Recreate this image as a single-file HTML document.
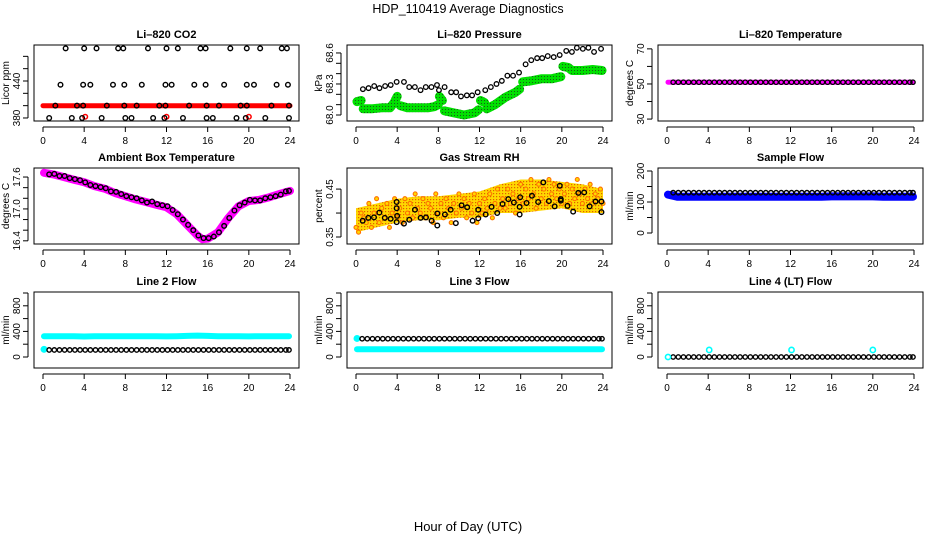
<!DOCTYPE html>
<html><head><meta charset="utf-8"><style>
html,body{margin:0;padding:0;background:#fff}
svg{display:block;font-family:"Liberation Sans",sans-serif}
</style></head><body>
<svg id="chart" width="936" height="540" viewBox="0 0 936 540" xmlns="http://www.w3.org/2000/svg">
<defs>
<pattern id="gdots" width="3" height="3" patternUnits="userSpaceOnUse"><rect width="3" height="3" fill="#00e000"/><rect x="1" y="1" width="1" height="1" fill="#1a5a1a"/></pattern>
<pattern id="odots" width="3" height="3" patternUnits="userSpaceOnUse"><rect width="3" height="3" fill="#ffd800"/><rect x="1" y="1" width="1.2" height="1.2" fill="#e06000"/></pattern>
</defs>
<text x="468" y="13" font-size="12.5" text-anchor="middle">HDP_110419  Average Diagnostics</text>
<text x="468" y="531" font-size="13" text-anchor="middle">Hour of Day (UTC)</text>
</svg>
<script>
// ---- data ----
const xTicks = [0,4,8,12,16,20,24];
const co2BT = [2.2,4.0,5.2,7.3,7.8,10.2,12.0,13.1,15.3,15.8,18.2,19.8,21.1,23.2,23.7, 1.7,3.9,4.6,6.8,7.9,9.6,11.9,12.5,14.7,15.8,17.6,19.8,20.5,22.7,23.8, 1.2,3.3,3.9,6.2,7.9,9.1,11.3,11.9,14.2,15.9,17.1,19.2,19.8,22.2,23.9, 0.6,2.8,3.8,5.7,8.0,8.6,10.7,11.8,13.6,15.9,16.5,18.8,19.7,21.6,23.9];
const co2BV = [493,493,493,493,493,493,493,493,493,493,493,493,493,493,493, 434,434,434,434,434,434,434,434,434,434,434,434,434,434,434, 400,400,400,400,400,400,400,400,400,400,400,400,400,400,400, 380,380,380,380,380,380,380,380,380,380,380,380,380,380,380];
const co2RT = [0,4,8,12,16,20,24];
const co2RV = [400,400,400,400,400,400,400];
const co2RdT = [4.1,12.0,20.0];
const co2RdV = [382,382,382];
const presBT = [0.67,1.22,1.77,2.28,2.83,3.37,3.95,4.66,5.17,5.72,6.27,6.78,7.33,7.87,8.06,8.61,9.25,9.73,10.2,10.77,11.28,11.82,12.56,13.1,13.65,14.17,14.71,15.26,15.84,16.48,17.03,17.6,18.09,18.63,19.21,19.79,20.43,20.98,21.46,22.04,22.58,23.13,23.81];
const presBV = [68.25,68.26,68.28,68.26,68.28,68.29,68.32,68.32,68.27,68.27,68.24,68.27,68.27,68.29,68.24,68.27,68.22,68.22,68.18,68.19,68.19,68.22,68.24,68.27,68.30,68.33,68.38,68.38,68.41,68.49,68.53,68.55,68.55,68.57,68.56,68.58,68.62,68.61,68.65,68.64,68.65,68.61,68.64];
const presGT = [0.1,0.5,null,0.7,1.5,2.5,3.3,3.7,4.0,null,4.3,5,6,7,7.6,8.0,null,8.1,8.4,null,8.6,9.5,10.5,11.5,11.9,null,12.1,12.5,null,12.7,13.5,14.5,15.5,15.9,null,16.2,17,18,19,19.9,null,20.1,20.6,21,22,23,23.9];
const presGV = [68.13,68.14,null,68.06,68.06,68.07,68.07,68.12,68.18,null,68.09,68.07,68.07,68.07,68.08,68.10,null,68.18,68.14,null,68.04,68.02,68.00,68.02,68.05,null,68.14,68.12,null,68.06,68.10,68.17,68.22,68.25,null,68.32,68.33,68.35,68.35,68.37,null,68.47,68.46,68.43,68.43,68.44,68.43];
const halfT = [0.6,1.1,1.6,2.1,2.6,3.1,3.6,4.1,4.6,5.1,5.6,6.1,6.6,7.1,7.6,8.1,8.6,9.1,9.6,10.1,10.6,11.1,11.6,12.1,12.6,13.1,13.6,14.1,14.6,15.1,15.6,16.1,16.6,17.1,17.6,18.1,18.6,19.1,19.6,20.1,20.6,21.1,21.6,22.1,22.6,23.1,23.6,23.9];
const hourT = [0.1,1,2,3,4,5,6,7,8,9,10,11,12,13,14,15,16,17,18,19,20,21,22,23,23.9];
const tempBV = [51,51,51,51,51,51,51,51,51,51,51,51,51,51,51,51,51,51,51,51,51,51,51,51,51,51,51,51,51,51,51,51,51,51,51,51,51,51,51,51,51,51,51,51,51,51,51,51];
const tempMV = [51,51,51,51,51,51,51,51,51,51,51,51,51,51,51,51,51,51,51,51,51,51,51,51,51];
const ambBV = [17.65,17.66,17.62,17.62,17.58,17.56,17.54,17.5,17.45,17.43,17.41,17.39,17.33,17.32,17.28,17.24,17.22,17.2,17.16,17.12,17.14,17.09,17.07,17.05,16.98,16.9,16.8,16.7,16.6,16.5,16.45,16.45,16.48,16.56,16.68,16.83,16.97,17.07,17.12,17.17,17.16,17.16,17.2,17.22,17.24,17.27,17.33,17.34];
const ambMT = [0.1,1,2,3,4,5,6,7,8,9,10,11,12,13,14,15,15.5,16,17,18,19,20,21,22,23,24];
const ambMV = [17.68,17.65,17.6,17.55,17.5,17.43,17.38,17.3,17.24,17.18,17.13,17.08,17.03,16.9,16.7,16.5,16.43,16.44,16.56,16.83,17.05,17.15,17.17,17.22,17.28,17.34];
const rhBT = [0.65,1.2,1.75,2.27,2.8,3.37,3.95,3.95,4.0,3.95,4.66,5.18,5.73,6.28,6.8,7.35,7.9,7.9,8.64,9.2,9.7,10.26,10.8,11.33,11.88,11.88,12.6,13.17,13.72,14.24,14.8,15.34,15.9,15.9,15.95,16.57,17.1,17.7,18.2,18.74,19.3,19.8,19.9,19.9,20.55,21.1,21.6,22.17,22.7,23.27,23.85,23.85];
const rhBV = [0.384,0.39,0.391,0.401,0.39,0.388,0.423,0.41,0.394,0.381,0.378,0.386,0.407,0.39,0.391,0.384,0.374,0.399,0.397,0.407,0.379,0.416,0.412,0.384,0.407,0.389,0.397,0.413,0.4,0.419,0.429,0.422,0.413,0.397,0.433,0.421,0.436,0.423,0.464,0.425,0.414,0.457,0.429,0.426,0.415,0.403,0.442,0.443,0.414,0.424,0.424,0.402];
const rhOV = [0.37,0.36,0.40,0.39,0.38,0.42,0.37,0.40,0.43, 0.38,0.41,0.39,0.42,0.37,0.40,0.43,0.39, 0.41,0.38,0.43,0.40,0.42,0.39,0.44,0.41, 0.40,0.43,0.39,0.42,0.41,0.38,0.44,0.40, 0.42,0.39,0.43,0.41,0.38,0.42,0.40,0.44, 0.41,0.43,0.39,0.42,0.40,0.44,0.38,0.42, 0.40,0.43,0.41,0.44,0.39,0.42,0.45,0.41, 0.43,0.41,0.45,0.42,0.44,0.40,0.43,0.46, 0.42,0.45,0.43,0.47,0.44,0.41,0.46,0.43, 0.45,0.42,0.47,0.44,0.46,0.43,0.45,0.42, 0.44,0.46,0.42,0.45,0.43,0.47,0.44,0.42, 0.45,0.43,0.46,0.42,0.44,0.43,0.45,0.42];
const rhBandT = [0,2,4,6,8,10,12,14,16,18,20,22,24];
const rhBandLo = [0.36,0.37,0.38,0.385,0.385,0.39,0.39,0.40,0.40,0.405,0.41,0.40,0.40];
const rhBandHi = [0.41,0.42,0.43,0.435,0.435,0.44,0.445,0.46,0.47,0.47,0.465,0.46,0.45];
const sampBV = [130,130,130,130,130,130,130,130,130,130,130,130,130,130,130,130,130,130,130,130,130,130,130,130,130,130,130,130,130,130,130,130,130,130,130,130,130,130,130,130,130,130,130,130,130,130,130,130];
const sampCV = [124,117,117,117,117,117,117,117,117,117,117,117,117,117,117,117,118,118,118,118,118,117,117,117,117];
const l2BV = [110,110,110,110,110,110,110,110,110,110,110,110,110,110,110,110,110,110,110,110,110,110,110,110,110,110,110,110,110,110,110,110,110,110,110,110,110,110,110,110,110,110,110,110,110,110,110,110];
const l2CV = [325,325,325,325,320,325,325,325,325,325,325,325,322,325,330,335,330,325,325,325,322,325,325,325,325];
const l3BV = [285,285,285,285,285,285,285,285,285,285,285,285,285,285,285,285,285,285,285,285,285,285,285,285,285,285,285,285,285,285,285,285,285,285,285,285,285,285,285,285,285,285,285,285,285,285,285,285];
const l3CV = [120,120,120,120,120,120,120,120,120,120,120,120,120,120,120,120,120,120,120,120,120,120,120,120,120];
const l4BV = [0,0,0,0,0,0,0,0,0,0,0,0,0,0,0,0,0,0,0,0,0,0,0,0,0,0,0,0,0,0,0,0,0,0,0,0,0,0,0,0,0,0,0,0,0,0,0,0];
const l4CT = [0.1,4.1,12.1,20.0];
const l4CV = [0,110,110,110];

// ---- drawing ----
const NS = 'http://www.w3.org/2000/svg';
const svg = document.getElementById('chart');
const colL = [34,347,658], rowT = [45,168,292], W = 265, H = 76;
function mk(tag, attrs, parent){ const e = document.createElementNS(NS, tag); for (const k in attrs) e.setAttribute(k, attrs[k]); parent.appendChild(e); return e; }

function panel(name, c, r, title, ylab, ylim, yticks, ylabels, ylabelText){
  const g = mk('g', {}, svg);
  
  
  const L = colL[c], T = rowT[r];
  const x = t => L + 9 + t * (247/24);
  const y = v => T + H - (v - ylim[0]) / (ylim[1] - ylim[0]) * H;
  const tt = mk('text', {x: L + W/2, y: T - 7, 'font-size': 11, 'font-weight': 'bold', 'text-anchor': 'middle'}, g);
  tt.textContent = title;
  
  
  const box = mk('rect', {x: L, y: T, width: W, height: H, fill: 'none', stroke: '#000', 'stroke-width': 1}, g);
  
  
  const xa = mk('g', {}, g);
  
  
  mk('line', {x1: x(0), x2: x(24), y1: T+H+6, y2: T+H+6, stroke: '#000'}, xa);
  xTicks.forEach(t => {
    mk('line', {x1: x(t), x2: x(t), y1: T+H+6, y2: T+H+11, stroke: '#000'}, xa);
    const tl = mk('text', {x: x(t), y: T+H+23, 'font-size': 10, 'text-anchor': 'middle'}, xa);
    tl.textContent = t;
    
    
  });
  const ya = mk('g', {}, g);
  
  
  mk('line', {x1: L-6, x2: L-6, y1: y(yticks[0]), y2: y(yticks[yticks.length-1]), stroke: '#000'}, ya);
  yticks.forEach(v => mk('line', {x1: L-11, x2: L-6, y1: y(v), y2: y(v), stroke: '#000'}, ya));
  ylabels.forEach((v, i) => {
    const yy = y(v);
    const tl = mk('text', {x: L-14, y: yy, 'font-size': 10, 'text-anchor': 'middle', transform: `rotate(-90 ${L-14} ${yy})`}, ya);
    tl.textContent = ylabelText[i];
    
    
  });
  const yl = mk('text', {x: L-25, y: T+H/2, 'font-size': 10, 'text-anchor': 'middle', transform: `rotate(-90 ${L-25} ${T+H/2})`}, g);
  yl.textContent = ylab;
  
  
  const clip = mk('clipPath', {id: 'clip-' + name}, g);
  mk('rect', {x: L, y: T, width: W, height: H}, clip);
  const marks = mk('g', {'clip-path': `url(#clip-${name})`}, g);
  
  
  return {g: marks, x, y};
}

function band(p, name, ts, vs, color, w){
  let d = '', start = true;
  ts.forEach((t, i) => {
    if (t === null || vs[i] === null) { start = true; return; }
    d += (start ? 'M' : 'L') + p.x(t).toFixed(1) + ' ' + p.y(vs[i]).toFixed(1) + ' ';
    start = false;
  });
  const e = mk('path', {d, fill: 'none', stroke: color, 'stroke-width': w, 'stroke-linecap': 'round', 'stroke-linejoin': 'round'}, p.g);
  
  
}
function dots(p, name, ts, vs, stroke, fill, r, sw){
  ts.forEach((t, i) => {
    const e = mk('circle', {cx: p.x(t), cy: p.y(vs[i]), r, fill, stroke, 'stroke-width': sw}, p.g);
    
    
  });
}

// CO2
let p = panel('co2', 0, 0, 'Li\u2013820 CO2', 'Licor ppm', [375.1, 498.4], [380,400,420,440,460,480], [380,440], ['380','440']);
band(p, 'co2-red-band', co2RT, co2RV, '#ff0000', 5);
dots(p, 'co2-red-point', co2RdT, co2RdV, '#ff0000', 'none', 2.3, 1.5);
dots(p, 'co2-black-point', co2BT, co2BV, '#000', 'none', 2.3, 1.4);

// Pressure
p = panel('pressure', 1, 0, 'Li\u2013820 Pressure', 'kPa', [67.942, 68.677], [68.0,68.1,68.2,68.3,68.4,68.5,68.6], [68.0,68.3,68.6], ['68.0','68.3','68.6']);
band(p, 'pressure-green-band', presGT, presGV, 'url(#gdots)', 9);
dots(p, 'pressure-black-point', presBT, presBV, '#000', 'none', 2.3, 1.3);

// Li-820 temperature
p = panel('li820-temp', 2, 0, 'Li\u2013820 Temperature', 'degrees C', [28.9, 72.2], [30,40,50,60,70], [30,50,70], ['30','50','70']);
band(p, 'li820-temp-magenta-band', hourT, tempMV, '#ff00ff', 5);
dots(p, 'li820-temp-black-point', halfT, tempBV, '#000', 'none', 2.2, 1.3);

// Ambient
p = panel('ambient', 0, 1, 'Ambient Box Temperature', 'degrees C', [16.34, 17.77], [16.4,16.6,16.8,17.0,17.2,17.4,17.6], [16.4,17.0,17.6], ['16.4','17.0','17.6']);
band(p, 'ambient-magenta-band', ambMT, ambMV, '#ff00ff', 8);
dots(p, 'ambient-black-point', halfT, ambBV, '#000', 'none', 2.3, 1.4);

// RH
p = panel('rh', 1, 1, 'Gas Stream RH', 'percent', [0.3354, 0.494], [0.35,0.40,0.45], [0.35,0.45], ['0.35','0.45']);
(function(){
  let d = '';
  rhBandT.forEach((t,i) => { d += (i ? 'L' : 'M') + p.x(t).toFixed(1) + ' ' + p.y(rhBandHi[i]).toFixed(1) + ' '; });
  for (let i = rhBandT.length-1; i >= 0; i--) d += 'L' + p.x(rhBandT[i]).toFixed(1) + ' ' + p.y(rhBandLo[i]).toFixed(1) + ' ';
  const e = mk('path', {d: d + 'Z', fill: 'url(#odots)'}, p.g);
  
  
})();
const rhOT = rhOV.map((v, i) => i * 0.25);
dots(p, 'rh-orange-point', rhOT, rhOV, '#ff7000', '#ffd800', 2.0, 1.1);
dots(p, 'rh-black-point', rhBT, rhBV, '#000', 'none', 2.3, 1.4);

// Sample flow
p = panel('sample-flow', 2, 1, 'Sample Flow', 'ml/min', [-35.5, 209.7], [0,50,100,150,200], [0,100,200], ['0','100','200']);
band(p, 'sample-flow-blue-band', hourT, sampCV, '#0000ff', 8);
dots(p, 'sample-flow-black-point', halfT, sampBV, '#000', 'none', 2.2, 1.4);

// Line 2
p = panel('line2-flow', 0, 2, 'Line 2 Flow', 'ml/min', [-171.9, 1015.6], [0,200,400,600,800,1000], [0,400,800], ['0','400','800']);
band(p, 'line2-cyan-band', hourT, l2CV, '#00ffff', 6);
dots(p, 'line2-cyan-point', [0.1], [120], '#00ffff', '#00ffff', 3, 1);
dots(p, 'line2-black-point', halfT, l2BV, '#000', 'none', 2.2, 1.4);

// Line 3
p = panel('line3-flow', 1, 2, 'Line 3 Flow', 'ml/min', [-171.9, 1015.6], [0,200,400,600,800,1000], [0,400,800], ['0','400','800']);
band(p, 'line3-cyan-band', hourT, l3CV, '#00ffff', 6);
dots(p, 'line3-cyan-point', [0.1], [290], '#00ffff', '#00ffff', 3, 1);
dots(p, 'line3-black-point', halfT, l3BV, '#000', 'none', 2.2, 1.4);

// Line 4
p = panel('line4-flow', 2, 2, 'Line 4 (LT) Flow', 'ml/min', [-171.9, 1015.6], [0,200,400,600,800,1000], [0,400,800], ['0','400','800']);
dots(p, 'line4-black-point', halfT, l4BV, '#000', 'none', 2.2, 1.4);
dots(p, 'line4-cyan-point', l4CT, l4CV, '#00ffff', 'none', 2.6, 1.6);
</script>
</body></html>
